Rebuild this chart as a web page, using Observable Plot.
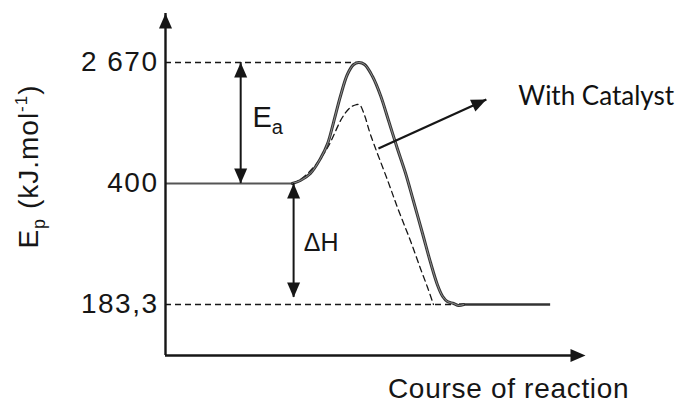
<!DOCTYPE html>
<html>
<head>
<meta charset="utf-8">
<script src="https://cdn.jsdelivr.net/npm/d3@7"></script>
<script src="https://cdn.jsdelivr.net/npm/@observablehq/plot@0.6"></script>
<style>
  html, body { margin: 0; padding: 0; background: #fff; }
  svg { display: block; }
</style>
</head>
<body>
<div id="chart"></div>
<script>
// ---------- data (reaction coordinate 0..100, energy in kJ/mol) ----------
const levelValues = [183.3, 400, 2670];
const levelLabels = ["183,3", "400", "2 670"];
const axisMin = 92, axisMax = 3589;           // schematic axis extents
const yTitle = "Ep (kJ.mol-1)";
const xTitle = "Course of reaction";

// uncatalysed path (solid)
const solidX = [30.2, 32.1, 34.5, 36.9, 38.6, 40.0, 41.7, 43.3, 44.8, 46.0, 47.4, 49.3, 51.2, 53.1, 55.2, 57.1, 59.0, 61.2, 63.1, 64.8, 66.0, 67.1, 68.6, 69.8, 71.0];
const solidE = [400, 456, 588, 869, 1150, 1544, 2051, 2445, 2632, 2670, 2632, 2407, 2051, 1582, 1057, 606, 369.6, 310.5, 258.5, 217.3, 197.6, 188.7, 185.1, 181.5, 183.3];

// catalysed path (dashed)
const catX = [30.2, 32.1, 35.2, 38.6, 42.1, 44.0, 45.5, 46.2, 47.4, 48.8, 52.9, 55.5, 58.3, 60.7, 62.4, 63.8];
const catE = [400, 475, 700, 1075, 1638, 1826, 1880, 1880, 1676, 1319, 456, 351.6, 297.9, 247.8, 213.7, 183.3];

// levels / guide extents
const reactantEnd = 30.2, peakX = 46.0, productDashEnd = 69.0, productStart = 71.0, productEnd = 91.7;

// annotation arrows
const eaX = 17.9, dhX = 30.5, dhBottom = 196;
const pointerFrom = {x: 50.7, E: 1057}, pointerTo = {x: 76.4, E: 1976};
const headX   = [0, 100, eaX, eaX, dhX, dhX, pointerTo.x];
const headE   = [axisMax, axisMin, 2670, 400, 400, dhBottom, pointerTo.E];
const headRot = [0, 90, 0, 180, 0, 180, 65.6];

// annotation labels
const eaLabel = {x: 20.7, E: 1638, text: "Ea"};
const dhLabel = {x: 32.9, E: 294, text: "ΔH"};
const catLabel = {x: 84.0, E: 2032, text: "With Catalyst"};

// schematic (non-proportional) energy axis: each level gap drawn at its own size
const schematic = d3.scaleLinear()
  .domain([axisMin, ...levelValues, axisMax])
  .range([0, 51, 172, 293, 342]);

// ---------- build ----------
const solid = solidX.map((x, i) => ({x, E: solidE[i]}));
const cat = catX.map((x, i) => ({x, E: catE[i]}));
const heads = headX.map((x, i) => ({x, E: headE[i], rot: headRot[i]}));

const arrowHead = {
  draw(ctx) { ctx.moveTo(0, 0); ctx.lineTo(-6.5, 15); ctx.lineTo(6.5, 15); ctx.closePath(); }
};

const ink = "#161616";
const dash = "6,4";
const font = "Liberation Sans, Arial, sans-serif";

const chart = Plot.plot({
  width: 680,
  height: 407,
  marginLeft: 165,
  marginRight: 95,
  marginTop: 13,
  marginBottom: 52,
  x: {domain: [0, 100], axis: null},
  y: {transform: schematic, axis: null},
  marks: [
    // guide lines
    Plot.ruleY([2670], {x1: 0, x2: peakX, stroke: ink, strokeWidth: 1.3, strokeDasharray: dash}),
    Plot.ruleY([183.3], {x1: 0, x2: productDashEnd, stroke: ink, strokeWidth: 1.3, strokeDasharray: dash}),
    Plot.ruleY([400], {x1: 0, x2: reactantEnd, stroke: "#555", strokeWidth: 2}),
    Plot.ruleY([183.3], {x1: productStart - 1, x2: productEnd, stroke: "#333", strokeWidth: 2.4}),
    // catalysed curve
    Plot.line(cat, {x: "x", y: "E", curve: "catmull-rom", stroke: ink, strokeWidth: 1.3, strokeDasharray: dash}),
    // uncatalysed curve (double-line look)
    Plot.line(solid, {x: "x", y: "E", curve: "catmull-rom", stroke: "#333", strokeWidth: 3}),
    Plot.line(solid, {x: "x", y: "E", curve: "catmull-rom", stroke: "#a8a8a8", strokeWidth: 0.8}),
    // axes
    Plot.ruleX([0], {y1: axisMin, y2: axisMax, stroke: ink, strokeWidth: 2.4}),
    Plot.ruleY([axisMin], {x1: 0, x2: 97, stroke: ink, strokeWidth: 2.4}),
    // double-headed arrows
    Plot.ruleX([eaX], {y1: 400, y2: 2670, stroke: ink, strokeWidth: 2}),
    Plot.ruleX([dhX], {y1: dhBottom, y2: 400, stroke: ink, strokeWidth: 2}),
    // pointer
    Plot.link([0], {x1: pointerFrom.x, y1: pointerFrom.E, x2: pointerTo.x, y2: pointerTo.E, stroke: ink, strokeWidth: 2.2}),
    // arrowheads
    Plot.dot(heads, {x: "x", y: "E", rotate: "rot", symbol: arrowHead, fill: ink, stroke: "none"}),
    // tick labels
    Plot.text(levelValues, {x: 0, y: d => d, text: (d, i) => levelLabels[i], textAnchor: "end", dx: -7, fontSize: 28, fontFamily: font, fill: ink}),
    // annotations
    Plot.text([eaLabel], {x: "x", y: "E", text: "text", textAnchor: "start", fontSize: 29, fontFamily: font, fill: ink}),
    Plot.text([dhLabel], {x: "x", y: "E", text: "text", textAnchor: "start", fontSize: 25, fontFamily: font, fill: ink}),
    Plot.text([catLabel], {x: "x", y: "E", text: "text", textAnchor: "start", fontSize: 26, fontFamily: "Lato, sans-serif", fill: "#111"}),
    // axis titles
    Plot.text([xTitle], {x: 81.7, frameAnchor: "bottom", textAnchor: "middle", lineAnchor: "middle", dy: 34, fontSize: 28, fontFamily: font, fill: ink}),
    Plot.text([yTitle], {frameAnchor: "left", textAnchor: "middle", lineAnchor: "middle", dx: -136, dy: -18, rotate: -90, fontSize: 28, fontFamily: font, fill: ink})
  ]
});

document.getElementById("chart").appendChild(chart);

// ---------- rich text post-processing (sub/superscripts, spacing) ----------
function leafWithText(str) {
  return Array.from(chart.querySelectorAll("text, tspan"))
    .filter(el => el.children.length === 0 && el.textContent === str);
}
leafWithText(yTitle).forEach(el => {
  el.innerHTML = 'E<tspan font-size="18" dy="7">p</tspan><tspan dy="-7"> (kJ.mol</tspan>' +
                 '<tspan font-size="17" dy="-11">-1</tspan><tspan dy="11">)</tspan>';
  el.setAttribute("letter-spacing", "1");
});
leafWithText("Ea").forEach(el => {
  el.innerHTML = 'E<tspan font-size="20" dy="7">a</tspan>';
});
[...levelLabels].forEach(s => leafWithText(s).forEach(el => el.setAttribute("letter-spacing", "1.5")));
leafWithText(xTitle).forEach(el => el.setAttribute("letter-spacing", "0.7"));
</script>
</body>
</html>
